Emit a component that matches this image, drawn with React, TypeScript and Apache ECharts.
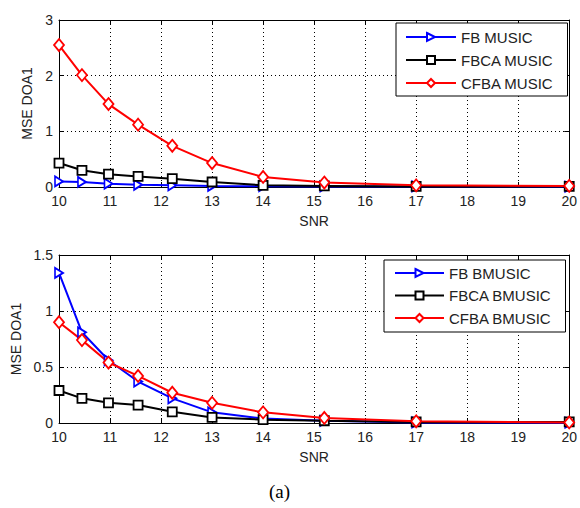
import React, { useEffect, useRef } from "react";
import * as echarts from "echarts";

const snr = [10, 10.45, 10.97, 11.55, 12.22, 13, 14, 15.2, 17, 20];

const topFB = [0.1, 0.09, 0.06, 0.04, 0.03, 0.02, 0.015, 0.01, 0.01, 0.005];
const topFBCA = [0.43, 0.3, 0.23, 0.19, 0.15, 0.09, 0.03, 0.02, 0.01, 0.01];
const topCFBA = [2.55, 2.01, 1.49, 1.12, 0.74, 0.43, 0.18, 0.08, 0.03, 0.02];

const botFB = [1.34, 0.81, 0.56, 0.37, 0.22, 0.095, 0.04, 0.02, 0.005, 0.003];
const botFBCA = [0.29, 0.22, 0.18, 0.16, 0.1, 0.05, 0.03, 0.02, 0.01, 0.01];
const botCFBA = [0.9, 0.74, 0.54, 0.42, 0.27, 0.18, 0.095, 0.045, 0.015, 0.005];

const topNames = ["FB MUSIC", "FBCA MUSIC", "CFBA MUSIC"];
const botNames = ["FB BMUSIC", "FBCA BMUSIC", "CFBA BMUSIC"];

const BLUE = "#0000ff";
const BLACK = "#000000";
const RED = "#ff0000";
const FONT = "'Liberation Sans', Arial, sans-serif";
const TRI = "path://M0,0 L10,5 L0,10 Z";

function pairs(ys: number[]) {
  return snr.map((x, i) => [x, ys[i]]);
}

export default function App() {
  const ref = useRef<HTMLDivElement>(null);
  useEffect(() => {
    document.body.style.margin = "0";
    const chart = echarts.init(ref.current!, null, { renderer: "svg" });

    const makeX = (gi: number, pos: string, labels: boolean, name?: string) => ({
      type: "value",
      gridIndex: gi,
      position: pos,
      min: 10,
      max: 20,
      interval: 1,
      name: name,
      nameLocation: "middle",
      nameGap: 27,
      nameTextStyle: { fontFamily: FONT, fontSize: 14, color: "#222" },
      axisLine: { show: true, onZero: false, lineStyle: { color: "#000", width: 1 } },
      axisTick: { show: true, inside: true, length: 5, lineStyle: { color: "#000" } },
      axisLabel: { show: labels, fontFamily: FONT, fontSize: 14, color: "#222", margin: 7 },
      splitLine: labels
        ? { show: true, lineStyle: { color: "#000", type: [1, 3], width: 1 } }
        : { show: false },
    });
    const makeY = (gi: number, pos: string, labels: boolean, max: number, interval: number) => ({
      type: "value",
      gridIndex: gi,
      position: pos,
      min: 0,
      max: max,
      interval: interval,
      name: labels ? "MSE DOA1" : undefined,
      nameLocation: "middle",
      nameGap: 25,
      nameTextStyle: { fontFamily: FONT, fontSize: 14, color: "#222" },
      axisLine: { show: true, onZero: false, lineStyle: { color: "#000", width: 1 } },
      axisTick: { show: true, inside: true, length: 5, lineStyle: { color: "#000" } },
      axisLabel: { show: labels, fontFamily: FONT, fontSize: 14, color: "#222", margin: 6 },
      splitLine: labels
        ? { show: true, lineStyle: { color: "#000", type: [1, 3], width: 1 } }
        : { show: false },
    });

    const mk = (name: string, data: number[], color: string, symbol: string, size: any, xi: number, yi: number) => ({
      type: "line",
      name,
      xAxisIndex: xi,
      yAxisIndex: yi,
      data: pairs(data),
      symbol,
      symbolSize: size,
      showSymbol: true,
      lineStyle: { color, width: 2 },
      itemStyle: { color: "#ffffff", borderColor: color, borderWidth: 1.8 },
      emphasis: { disabled: true },
    });

    const legendBase = {
      orient: "vertical",
      itemWidth: 50,
      itemHeight: 10,
      itemGap: 8,
      backgroundColor: "#ffffff",
      borderColor: "#000",
      borderWidth: 1,
      borderRadius: 0,
      textStyle: { fontFamily: FONT, fontSize: 15, color: "#222" },
      selectedMode: false,
    };

    chart.setOption({
      animation: false,
      grid: [
        { left: 59, top: 20, width: 513, height: 167, show: false },
        { left: 59, top: 255, width: 513, height: 168, show: false },
      ],
      xAxis: [
        makeX(0, "bottom", true, "SNR"),
        makeX(0, "top", false),
        makeX(1, "bottom", true, "SNR"),
        makeX(1, "top", false),
      ],
      yAxis: [
        makeY(0, "left", true, 3, 1),
        makeY(0, "right", false, 3, 1),
        makeY(1, "left", true, 1.5, 0.5),
        makeY(1, "right", false, 1.5, 0.5),
      ],
      legend: [
        {
          ...legendBase,
          left: 396,
          top: 23,
          padding: [6.5, 14, 5.5, 9],
          data: topNames,
        },
        {
          ...legendBase,
          left: 384,
          top: 260,
          itemWidth: 49,
          itemGap: 7.5,
          padding: [5.5, 14, 6.5, 10],
          data: botNames,
        },
      ],
      series: [
        mk(topNames[0], topFB, BLUE, TRI, [8, 10], 0, 0),
        mk(topNames[1], topFBCA, BLACK, "rect", 9, 0, 0),
        mk(topNames[2], topCFBA, RED, "diamond", [10, 12], 0, 0),
        mk(botNames[0], botFB, BLUE, TRI, [8, 10], 2, 2),
        mk(botNames[1], botFBCA, BLACK, "rect", 9, 2, 2),
        mk(botNames[2], botCFBA, RED, "diamond", [10, 12], 2, 2),
      ],
      graphic: [
        {
          type: "text",
          left: 269,
          top: 482,
          style: {
            text: "(a)",
            font: "19px 'Liberation Serif', 'Times New Roman', serif",
            fill: "#000",
          },
        },
      ],
    });
    return () => chart.dispose();
  }, []);
  return <div ref={ref} style={{ width: 580, height: 508 }} />;
}
